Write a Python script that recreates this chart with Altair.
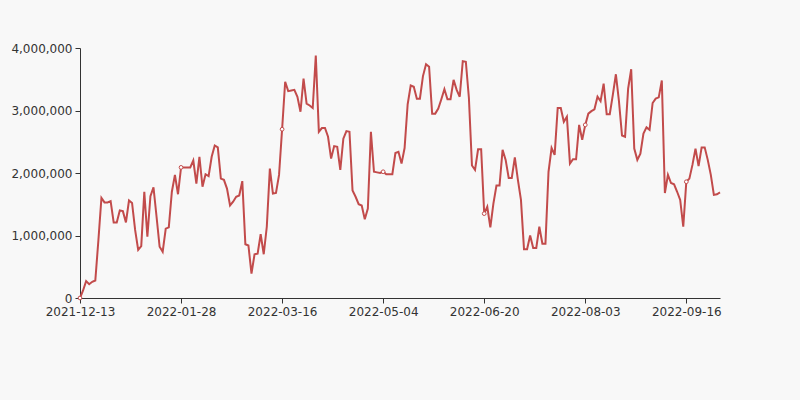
import altair as alt
import pandas as pd

# x-axis category labels (shown every 33rd point)
label_dates = ["2021-12-13", "2022-01-28", "2022-03-16", "2022-05-04",
               "2022-06-20", "2022-08-03", "2022-09-16"]
label_step = 33

# series values (one per category)
volume = [
    0, 120000, 270000, 220000, 260000, 280000, 920000, 1600000, 1530000, 1530000,
    1550000, 1210000, 1210000, 1400000, 1390000, 1210000, 1560000, 1520000, 1090000, 770000,
    830000, 1700000, 980000, 1630000, 1770000, 1300000, 820000, 740000, 1110000, 1130000,
    1700000, 1970000, 1660000, 2090000, 2090000, 2090000, 2090000, 2200000, 1830000, 2260000,
    1780000, 1980000, 1950000, 2260000, 2440000, 2410000, 1910000, 1890000, 1750000, 1480000,
    1540000, 1620000, 1640000, 1870000, 860000, 840000, 390000, 700000, 710000, 1020000,
    700000, 1140000, 2070000, 1670000, 1680000, 1970000, 2700000, 3460000, 3310000, 3320000,
    3330000, 3220000, 2980000, 3510000, 3110000, 3080000, 3040000, 3880000, 2660000, 2720000,
    2720000, 2580000, 2230000, 2430000, 2420000, 2050000, 2550000, 2670000, 2660000, 1720000,
    1620000, 1500000, 1480000, 1260000, 1430000, 2660000, 2020000, 2010000, 2000000, 2020000,
    1980000, 1980000, 1980000, 2320000, 2340000, 2150000, 2400000, 3100000, 3400000, 3380000,
    3190000, 3190000, 3550000, 3740000, 3700000, 2950000, 2950000, 3030000, 3180000, 3340000,
    3180000, 3180000, 3490000, 3330000, 3220000, 3790000, 3780000, 3200000, 2120000, 2050000,
    2380000, 2380000, 1350000, 1460000, 1130000, 1510000, 1800000, 1800000, 2370000, 2210000,
    1920000, 1920000, 2250000, 1890000, 1570000, 780000, 780000, 1000000, 800000, 800000,
    1140000, 870000, 870000, 2020000, 2400000, 2290000, 3040000, 3040000, 2820000, 2900000,
    2150000, 2220000, 2220000, 2770000, 2530000, 2770000, 2950000, 2990000, 3020000, 3220000,
    3150000, 3430000, 2940000, 2940000, 3250000, 3580000, 3150000, 2600000, 2580000, 3350000,
    3660000, 2390000, 2210000, 2310000, 2630000, 2730000, 2690000, 3120000, 3190000, 3210000,
    3480000, 1680000, 1970000, 1840000, 1820000, 1700000, 1570000, 1140000, 1860000, 1910000,
    2130000, 2390000, 2110000, 2410000, 2410000, 2210000, 1970000, 1650000, 1660000, 1690000,
]

y_ticks = [0, 1000000, 2000000, 3000000, 4000000]

df = pd.DataFrame({"idx": list(range(len(volume))), "volume": volume})

label_array = "[" + ",".join(f"'{d}'" for d in label_dates) + "]"
label_expr = f"{label_array}[round(datum.value / {label_step})]"

x_enc = alt.X(
    "idx:Q",
    scale=alt.Scale(domain=[0, len(volume) - 1], nice=False, zero=False),
    axis=alt.Axis(
        values=[i * label_step for i in range(len(label_dates))],
        labelExpr=label_expr, title=None, grid=False,
        labelFlush=False, labelOverlap=False, labelBound=False,
        labelPadding=3, tickSize=5,
    ),
)
y_enc = alt.Y(
    "volume:Q",
    scale=alt.Scale(domain=[0, 4000000], nice=False),
    axis=alt.Axis(values=y_ticks, labelExpr="format(datum.value, ',.0f')",
                  title=None, grid=False, labelPadding=3, tickSize=5),
)

line_color = "#c24b4b"

line = alt.Chart(df).mark_line(color=line_color, strokeWidth=2).encode(x=x_enc, y=y_enc)

pts = (
    alt.Chart(df)
    .transform_filter(f"datum.idx % {label_step} == 0")
    .mark_circle(fill="#ffffff", stroke=line_color, strokeWidth=1, size=14, opacity=1)
    .encode(x=x_enc, y=y_enc)
)

chart = (
    (line + pts)
    .properties(
        width=640, height=250, background="#f8f8f8",
        padding={"left": 80, "top": 48, "right": 80, "bottom": 102},
        autosize=alt.AutoSizeParams(type="none"),
    )
    .configure_view(stroke=None)
    .configure_axis(
        domainColor="#333333", tickColor="#333333", labelColor="#333333",
        labelFont="DejaVu Sans", labelFontSize=12, domainWidth=1, tickWidth=1,
    )
)

chart.save("out.html", embed_options={"renderer": "svg", "actions": False})
